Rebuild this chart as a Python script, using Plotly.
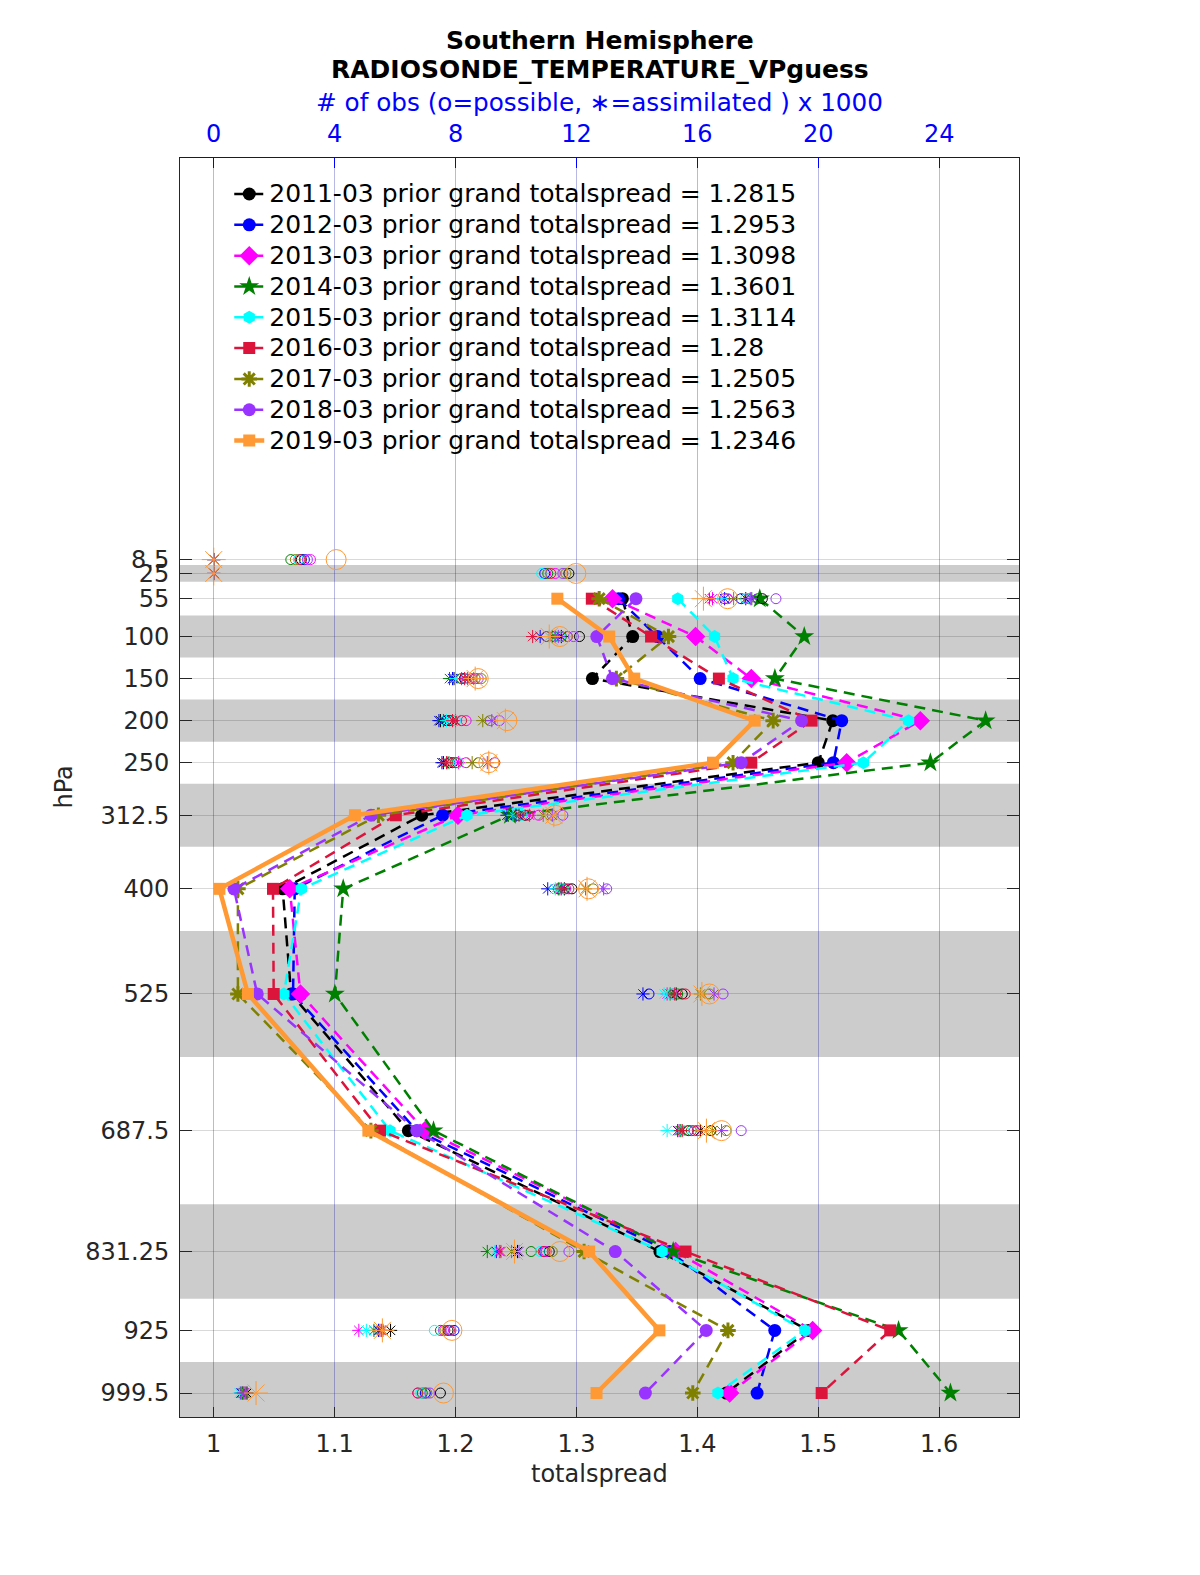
import plotly.graph_objects as go

# ---------------- data ----------------
levels = [8.5, 25, 55, 100, 150, 200, 250, 312.5, 400, 525, 687.5, 831.25, 925, 999.5]
level_labels = ["8.5", "25", "55", "100", "150", "200", "250", "312.5", "400", "525",
                "687.5", "831.25", "925", "999.5"]

years = ["2011-03", "2012-03", "2013-03", "2014-03", "2015-03", "2016-03", "2017-03", "2018-03", "2019-03"]
grand = ["1.2815", "1.2953", "1.3098", "1.3601", "1.3114", "1.28", "1.2505", "1.2563", "1.2346"]

# totalspread per level (None = no value)
spread_2011 = [None, None, 1.338, 1.3465, 1.3132, 1.512, 1.500, 1.172, 1.057, 1.064, 1.161, 1.369, 1.492, 1.424]
spread_2012 = [None, None, 1.3348, 1.3672, 1.4023, 1.5194, 1.5125, 1.1893, 1.067, 1.0656, 1.168, 1.377, 1.464, 1.4494]
spread_2013 = [None, None, 1.3298, 1.3985, 1.4446, 1.5844, 1.5235, 1.202, 1.0629, 1.0717, 1.1747, 1.382, 1.4953, 1.4267]
spread_2014 = [None, None, 1.4516, 1.4884, 1.4641, 1.6384, 1.5927, 1.245, 1.1071, 1.1002, 1.1818, 1.380, 1.5664, 1.6093]
spread_2015 = [None, None, 1.3838, 1.4142, 1.4295, 1.5747, 1.5373, 1.2095, 1.0725, 1.058, 1.1458, 1.3708, 1.489, 1.417]
spread_2016 = [None, None, 1.3127, 1.3617, 1.4178, 1.4945, 1.4446, 1.1506, 1.049, 1.0496, 1.1375, 1.3902, 1.5595, 1.5028]
spread_2017 = [None, None, 1.3188, 1.3761, 1.333, 1.4627, 1.4295, 1.1362, 1.020, 1.020, 1.130, 1.3063, 1.4253, 1.3962]
spread_2018 = [None, None, 1.3492, 1.3168, 1.3298, 1.4862, 1.4363, 1.1301, 1.0167, 1.036, 1.168, 1.3321, 1.4073, 1.357]
spread_2019 = [None, None, 1.2842, 1.3271, 1.3478, 1.4474, 1.4129, 1.1168, 1.0047, 1.0283, 1.1279, 1.3105, 1.3686, 1.3166]

# number of obs possible (x1000)
poss_2011 = [2.9, 11.75, 18.15, 12.1, 8.3, 7.8, 7.9, 10.3, 11.85, 15.5, 16.45, 11.1, 7.75, 7.5]
poss_2012 = [3.0, 10.95, 17.45, 11.25, 8.3, 7.7, 7.8, 10.05, 11.4, 14.4, 15.7, 10.95, 7.95, 7.0]
poss_2013 = [3.2, 11.3, 17.0, 11.7, 8.55, 8.35, 8.35, 10.75, 11.65, 15.2, 15.9, 11.0, 7.6, 6.75]
poss_2014 = [2.55, 11.05, 18.0, 11.5, 8.2, 7.9, 8.05, 10.1, 11.6, 15.35, 15.8, 10.5, 7.5, 6.9]
poss_2015 = [2.8, 10.85, 17.6, 11.45, 8.35, 8.0, 8.1, 10.2, 11.55, 15.15, 15.55, 10.8, 7.3, 6.85]
poss_2016 = [2.85, 11.15, 16.9, 11.0, 8.65, 8.2, 8.0, 10.4, 11.75, 15.6, 16.0, 10.9, 7.8, 6.75]
poss_2017 = [2.7, 11.65, 17.7, 11.7, 8.85, 9.15, 8.75, 11.2, 12.55, 16.4, 16.95, 11.2, 7.65, 7.05]
poss_2018 = [3.1, 11.55, 18.6, 11.9, 8.75, 9.45, 9.3, 11.55, 13.0, 16.85, 17.45, 11.75, 7.85, 7.15]
poss_2019 = [4.05, 11.98, 17.0, 11.45, 8.75, 9.7, 9.1, 11.3, 12.4, 16.4, 16.8, 11.45, 7.88, 7.6]

# number of obs assimilated (x1000)
assim_2011 = [0, 0, 17.6, 11.5, 7.95, 7.5, 7.6, 10.0, 11.6, 15.3, 16.1, 10.05, 5.85, 1.1]
assim_2012 = [0, 0, 16.9, 10.8, 7.9, 7.45, 7.55, 9.7, 11.05, 14.2, 15.35, 9.35, 5.45, 0.9]
assim_2013 = [0, 0, 16.5, 11.3, 8.2, 8.0, 8.1, 10.45, 11.45, 15.0, 15.4, 9.45, 4.8, 0.95]
assim_2014 = [0, 0, 17.8, 11.2, 7.8, 7.6, 7.75, 9.75, 11.4, 15.1, 15.45, 9.05, 5.3, 0.95]
assim_2015 = [0, 0, 16.8, 11.1, 8.0, 7.7, 7.8, 9.9, 11.3, 14.9, 15.0, 9.3, 5.05, 0.85]
assim_2016 = [0, 0, 16.4, 10.55, 8.3, 7.9, 7.7, 10.1, 11.5, 15.25, 15.5, 9.5, 5.5, 1.0]
assim_2017 = [0, 0, 17.2, 11.3, 8.6, 8.9, 8.55, 10.9, 12.3, 16.1, 16.5, 9.85, 5.55, 1.05]
assim_2018 = [0, 0, 17.75, 11.4, 8.4, 9.2, 9.05, 11.2, 12.9, 16.55, 16.8, 10.1, 5.6, 1.0]
assim_2019 = [0, 0, 16.2, 11.1, 8.65, 9.65, 9.1, 11.25, 12.35, 16.15, 16.3, 9.95, 5.58, 1.4]

# shaded layer bands (hPa)
band_lo = [15, 75, 175, 275, 450, 775, 962.5]
band_hi = [35, 125, 225, 350, 600, 887.5, 1040]

spreads = [spread_2011, spread_2012, spread_2013, spread_2014, spread_2015,
           spread_2016, spread_2017, spread_2018, spread_2019]
possibles = [poss_2011, poss_2012, poss_2013, poss_2014, poss_2015,
             poss_2016, poss_2017, poss_2018, poss_2019]
assims = [assim_2011, assim_2012, assim_2013, assim_2014, assim_2015,
          assim_2016, assim_2017, assim_2018, assim_2019]

# ---------------- styles ----------------
colors = ["#000000", "#0000ff", "#ff00ff", "#008000", "#00ffff",
          "#dc143c", "#808000", "#9933ff", "#ff9933"]
symbols = ["circle", "circle", "diamond", "star", "hexagon",
           "square", "asterisk-open", "circle", "square"]
msizes = [13, 13, 15, 15, 13, 12, 13, 13, 12]

FONT = "DejaVu Sans"
fig = go.Figure()

# obs counts (top axis)
for i in range(9):
    big = (i == 8)
    fig.add_trace(go.Scatter(
        x=possibles[i], y=levels, xaxis="x2", yaxis="y", mode="markers",
        showlegend=False, hoverinfo="skip",
        marker=dict(symbol="circle-open", size=20 if big else 10, color=colors[i],
                    line=dict(color=colors[i], width=1))))
    fig.add_trace(go.Scatter(
        x=assims[i], y=levels, xaxis="x2", yaxis="y", mode="markers",
        showlegend=False, hoverinfo="skip",
        marker=dict(symbol="asterisk-open", size=20 if big else 11, color=colors[i],
                    line=dict(color=colors[i], width=1))))

# spread profiles (bottom axis)
for i in range(9):
    last = (i == 8)
    mk = dict(symbol=symbols[i], size=msizes[i], color=colors[i],
              line=dict(color=colors[i], width=3 if symbols[i] == "asterisk-open" else 0))
    fig.add_trace(go.Scatter(
        x=spreads[i], y=levels, xaxis="x", yaxis="y", mode="lines+markers",
        name=f'<span style="font-size:25px">{years[i]} prior grand totalspread = {grand[i]}</span>',
        connectgaps=False,
        line=dict(color=colors[i], width=4.5 if last else 2.5,
                  dash="solid" if last else "11px,7px"),
        marker=mk))

shapes = []
for lo, hi in zip(band_lo, band_hi):
    shapes.append(dict(type="rect", xref="paper", yref="y", x0=0, x1=1, y0=lo, y1=hi,
                       fillcolor="#cccccc", line=dict(width=0), layer="below"))

annotations = [
    dict(text="<b>Southern Hemisphere</b>", x=0.5, y=1.0934, xref="paper", yref="paper",
         showarrow=False, font=dict(family=FONT, size=25, color="black"), yanchor="middle"),
    dict(text="<b>RADIOSONDE_TEMPERATURE_VPguess</b>", x=0.5, y=1.0702, xref="paper", yref="paper",
         showarrow=False, font=dict(family=FONT, size=25, color="black"), yanchor="middle"),
    dict(text="# of obs (o=possible, \u2217=assimilated ) x 1000", x=0.5, y=1.0439,
         xref="paper", yref="paper", showarrow=False,
         font=dict(family=FONT, size=24.7, color="#0000ff"), yanchor="middle"),
    dict(text="totalspread", x=0.5, y=-0.0455, xref="paper", yref="paper", showarrow=False,
         font=dict(family=FONT, size=24, color="#262626"), yanchor="middle"),
    dict(text="hPa", x=-0.1388, y=0.5004, xref="paper", yref="paper", showarrow=False,
         textangle=-90, font=dict(family=FONT, size=24, color="#262626"),
         xanchor="center", yanchor="middle"),
]

fig.update_layout(
    width=1200, height=1575, autosize=False,
    margin=dict(l=172, r=189, t=150, b=166),
    paper_bgcolor="white", plot_bgcolor="white",
    font=dict(family=FONT, size=24, color="#262626"),
    shapes=shapes, annotations=annotations,
    legend=dict(x=0.0587, y=0.9876, xanchor="left", yanchor="top",
                bgcolor="rgba(255,255,255,0)", font=dict(family=FONT, size=21.4, color="black"),
                tracegroupgap=0),
    xaxis=dict(range=[0.97211, 1.666], tickvals=[1, 1.1, 1.2, 1.3, 1.4, 1.5, 1.6],
               ticktext=["1", "1.1", "1.2", "1.3", "1.4", "1.5", "1.6"],
               ticks="inside", ticklen=10, tickcolor="#262626", showline=True,
               linecolor="#262626", linewidth=1, showgrid=False, zeroline=False,
               ticklabelstandoff=5,
               tickfont=dict(family=FONT, size=24, color="#262626")),
    xaxis2=dict(range=[-1.1155, 26.64], overlaying="x", side="top",
                tickvals=[0, 4, 8, 12, 16, 20, 24],
                ticks="inside", ticklen=10, tickcolor="#0000ff", showline=True,
                linecolor="#0000ff", linewidth=1, showgrid=True,
                gridcolor="rgba(0,0,170,0.28)", gridwidth=1, zeroline=False,
                ticklabelstandoff=5,
                tickfont=dict(family=FONT, size=24, color="#0000ff")),
    yaxis=dict(range=[1028, -469], tickvals=levels, ticktext=level_labels,
               ticks="inside", ticklen=12, tickcolor="#262626", showline=True,
               linecolor="#262626", linewidth=1, mirror="ticks", showgrid=True,
               gridcolor="rgba(0,0,0,0.15)", gridwidth=1, zeroline=False,
               ticklabelstandoff=5,
               tickfont=dict(family=FONT, size=24, color="#262626")),
)

fig.write_html("out.html")
